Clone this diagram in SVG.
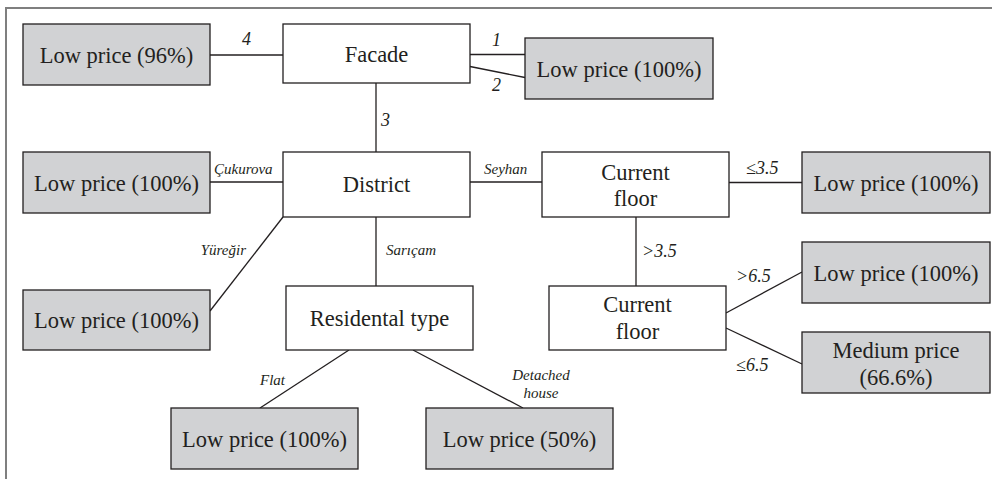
<svg xmlns="http://www.w3.org/2000/svg" width="992" height="479" viewBox="0 0 992 479">
<style>
.frame{fill:none;stroke:#7f7f7f;stroke-width:2}
.leaf{fill:#d1d2d4;stroke:#231f20;stroke-width:1.3}
.node{fill:#ffffff;stroke:#231f20;stroke-width:1.3}
.t{font-size:22.5px;fill:#231f20;text-anchor:middle}
.e{font-style:italic;fill:#231f20}
.en{font-size:18px}
.es{font-size:15px}
.conn line{stroke:#231f20;stroke-width:1.3}
</style>
<rect x="0" y="0" width="992" height="479" fill="#ffffff"/>
<path class="frame" d="M6 479 V8 H992"/>
<g id="connectors" class="conn">
<line x1="210" y1="55" x2="283" y2="55"/>
<line x1="470" y1="54.5" x2="525" y2="54.5"/>
<line x1="470" y1="66.5" x2="525" y2="77.5"/>
<line x1="376" y1="83" x2="376" y2="152"/>
<line x1="210" y1="182" x2="283" y2="182"/>
<line x1="470" y1="182" x2="542" y2="182"/>
<line x1="729" y1="182.5" x2="802" y2="182.5"/>
<line x1="283" y1="217" x2="210" y2="311"/>
<line x1="376" y1="217" x2="376" y2="286"/>
<line x1="349" y1="350" x2="260" y2="408"/>
<line x1="413" y1="350" x2="523" y2="408"/>
<line x1="636" y1="217" x2="636" y2="286"/>
<line x1="726" y1="313" x2="802" y2="272"/>
<line x1="726" y1="328" x2="802" y2="364"/>
</g>
<g font-family="Liberation Serif, Times New Roman, DejaVu Serif, serif">
<g id="edge-labels">
<text class="e en" x="242" y="45">4</text>
<text class="e en" x="492" y="46">1</text>
<text class="e en" x="492" y="91">2</text>
<text class="e en" x="381" y="126">3</text>
<text class="e es" x="214" y="174">Çukurova</text>
<text class="e es" x="484" y="174">Seyhan</text>
<text class="e en" x="746" y="174">≤3.5</text>
<text class="e es" x="246" y="255" text-anchor="end">Yüreğir</text>
<text class="e es" x="386" y="255">Sarıçam</text>
<text class="e en" x="642" y="257">&gt;3.5</text>
<text class="e en" x="736" y="282">&gt;6.5</text>
<text class="e en" x="736" y="371">≤6.5</text>
<text class="e es" x="260" y="385">Flat</text>
<text class="e es" x="541" y="380" text-anchor="middle">Detached</text>
<text class="e es" x="541" y="398" text-anchor="middle">house</text>
</g>
<g id="leaf-96">
<rect class="leaf" x="23" y="24" width="187" height="61"/>
<text class="t" x="116.5" y="63">Low price (96%)</text>
</g>
<g id="facade">
<rect class="node" x="283" y="24" width="187" height="59"/>
<text class="t" x="376.5" y="62">Facade</text>
</g>
<g id="leaf-facade-100">
<rect class="leaf" x="525" y="38" width="188" height="61"/>
<text class="t" x="619" y="77">Low price (100%)</text>
</g>
<g id="leaf-cukurova">
<rect class="leaf" x="23" y="152" width="187" height="61"/>
<text class="t" x="116.5" y="191">Low price (100%)</text>
</g>
<g id="district">
<rect class="node" x="283" y="152" width="187" height="65"/>
<text class="t" x="376.5" y="192">District</text>
</g>
<g id="current-floor-1">
<rect class="node" x="542" y="152" width="187" height="65"/>
<text class="t" x="635.5" y="180">Current</text>
<text class="t" x="635.5" y="206">floor</text>
</g>
<g id="leaf-le35">
<rect class="leaf" x="802" y="152" width="188" height="61"/>
<text class="t" x="896" y="191">Low price (100%)</text>
</g>
<g id="leaf-yuregir">
<rect class="leaf" x="23" y="290" width="187" height="60"/>
<text class="t" x="116.5" y="328">Low price (100%)</text>
</g>
<g id="residental-type">
<rect class="node" x="286" y="286" width="187" height="64"/>
<text class="t" x="379.5" y="326">Residental type</text>
</g>
<g id="current-floor-2">
<rect class="node" x="549" y="286" width="177" height="64"/>
<text class="t" x="637.5" y="312">Current</text>
<text class="t" x="637.5" y="339">floor</text>
</g>
<g id="leaf-gt65">
<rect class="leaf" x="802" y="242" width="188" height="61"/>
<text class="t" x="896" y="281">Low price (100%)</text>
</g>
<g id="leaf-medium">
<rect class="leaf" x="802" y="332" width="188" height="61"/>
<text class="t" x="896" y="358">Medium price</text>
<text class="t" x="896" y="385">(66.6%)</text>
</g>
<g id="leaf-flat">
<rect class="leaf" x="171" y="408" width="187" height="61"/>
<text class="t" x="264.5" y="447">Low price (100%)</text>
</g>
<g id="leaf-detached">
<rect class="leaf" x="426" y="408" width="187" height="61"/>
<text class="t" x="519.5" y="447">Low price (50%)</text>
</g>
</g>
</svg>
